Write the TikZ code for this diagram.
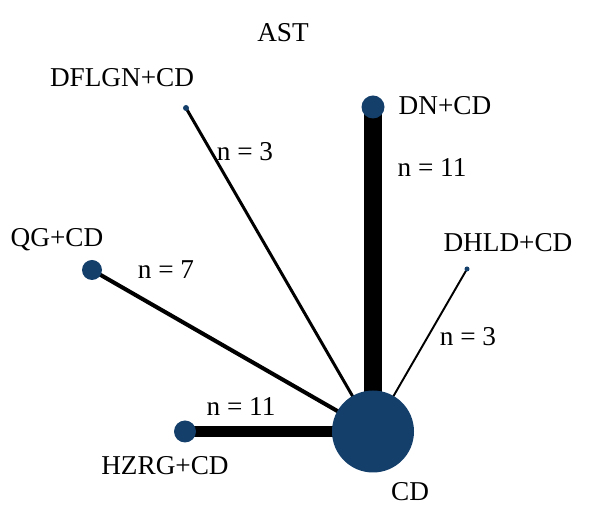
\documentclass[tikz,border=0pt]{standalone}
\usepackage{fontspec}
\setmainfont{Liberation Serif}
\usepackage{xcolor}
\usetikzlibrary{backgrounds}
\definecolor{dotblue}{HTML}{143F6B}

\begin{document}
\begin{tikzpicture}[
    dot/.style={circle, fill=dotblue, inner sep=0pt},
    lbl/.style={font=\fontsize{15.5}{18}\selectfont, inner sep=0pt},
    edge/.style={draw=black},
]
\useasboundingbox (0,0) rectangle (12,-10.46);

\node[dot, minimum size=1.64cm] (cd) at (7.46,-8.63) {};
\node[dot, minimum size=0.46cm] (dn) at (7.46,-2.14) {};
\node[dot, minimum size=0.12cm] (dflgn) at (3.72,-2.16) {};
\node[dot, minimum size=0.40cm] (qg) at (1.84,-5.40) {};
\node[dot, minimum size=0.10cm] (dhld) at (9.34,-5.38) {};
\node[dot, minimum size=0.44cm] (hzrg) at (3.70,-8.63) {};

\node[lbl] (title) at (5.66,-0.66) {AST};
\node[lbl] (cdlbl) at (8.20,-9.84) {CD};
\node[lbl] (dnlbl) at (8.90,-2.12) {DN+CD};
\node[lbl] (dflgnlbl) at (2.44,-1.56) {DFLGN+CD};
\node[lbl] (qglbl) at (1.14,-4.80) {QG+CD};
\node[lbl] (dhldlbl) at (10.16,-4.86) {DHLD+CD};
\node[lbl] (hzrglbl) at (3.30,-9.32) {HZRG+CD};

\node[lbl] (ndn) at (8.64,-3.36) {n = 11};
\node[lbl] (ndflgn) at (4.90,-3.04) {n = 3};
\node[lbl] (nqg) at (3.32,-5.40) {n = 7};
\node[lbl] (ndhld) at (9.36,-6.74) {n = 3};
\node[lbl] (nhzrg) at (4.82,-8.14) {n = 11};

\begin{scope}[on background layer]
\draw[edge, line width=10.2pt] (dn.center) -- (cd.center);
\draw[edge, line width=6.3pt] (hzrg.center) -- (cd.center);
\draw[edge, line width=2.3pt] (qg.center) -- (cd.center);
\draw[edge, line width=1.7pt] (dflgn.center) -- (cd.center);
\draw[edge, line width=1.1pt] (dhld.center) -- (cd.center);
\end{scope}

\end{tikzpicture}
\end{document}
